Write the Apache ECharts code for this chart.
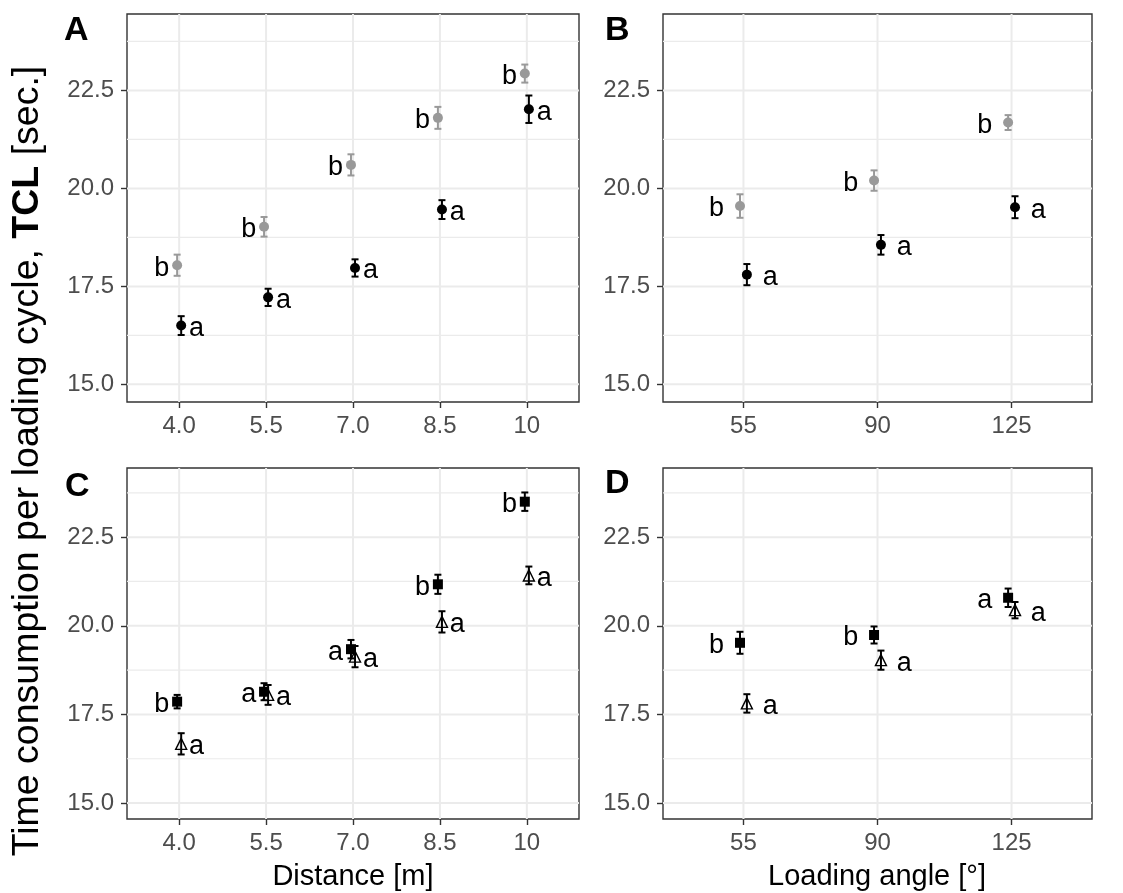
<!DOCTYPE html>
<html>
<head>
<meta charset="utf-8">
<script src="https://cdn.jsdelivr.net/npm/echarts@6/dist/echarts.min.js"></script>
<style>
html,body{margin:0;padding:0;background:#fff;}
#chart{width:1123px;height:893px;}
</style>
</head>
<body>
<div id="chart"></div>
<script>
// ---------- data ----------
const distCats = [4.0, 5.5, 7.0, 8.5, 10];
const distTickLabels = ['4.0', '5.5', '7.0', '8.5', '10'];
const angleCats = [55, 90, 125];
const angleTickLabels = ['55', '90', '125'];
const yTicks = [15, 17.5, 20, 22.5];
const yTickLabels = ['15.0', '17.5', '20.0', '22.5'];

// Panel A (distance; grey = b, black = a)
const A_grey_mean = [18.04, 19.02, 20.60, 21.80, 22.93];
const A_grey_err  = [0.27, 0.25, 0.27, 0.28, 0.23];
const A_grey_letter = ['b', 'b', 'b', 'b', 'b'];
const A_black_mean = [16.50, 17.22, 17.97, 19.46, 22.02];
const A_black_err  = [0.24, 0.22, 0.22, 0.24, 0.35];
const A_black_letter = ['a', 'a', 'a', 'a', 'a'];

// Panel B (loading angle)
const B_grey_mean = [19.55, 20.20, 21.68];
const B_grey_err  = [0.30, 0.26, 0.19];
const B_grey_letter = ['b', 'b', 'b'];
const B_black_mean = [17.80, 18.56, 19.52];
const B_black_err  = [0.27, 0.25, 0.28];
const B_black_letter = ['a', 'a', 'a'];

// Panel C (distance; squares / triangles)
const C_square_mean = [17.86, 18.14, 19.34, 21.17, 23.50];
const C_square_err  = [0.19, 0.24, 0.26, 0.27, 0.26];
const C_square_letter = ['b', 'a', 'a', 'b', 'b'];
const C_tri_mean = [16.67, 18.05, 19.13, 20.11, 21.42];
const C_tri_err  = [0.30, 0.28, 0.30, 0.30, 0.25];
const C_tri_letter = ['a', 'a', 'a', 'a', 'a'];

// Panel D (loading angle; squares / triangles)
const D_square_mean = [19.52, 19.74, 20.79];
const D_square_err  = [0.31, 0.24, 0.26];
const D_square_letter = ['b', 'b', 'a'];
const D_tri_mean = [17.81, 19.03, 20.44];
const D_tri_err  = [0.26, 0.27, 0.23];
const D_tri_letter = ['a', 'a', 'a'];

// ---------- styling ----------
const FONT = '"Liberation Sans", Arial, Helvetica, sans-serif';
const TICK_FS = 24;
const LAB_FS = 27;
const TITLE_FS = 29;
const YTITLE_FS = 37.5;
const GREY = '#999999';
const BLACK = '#000000';

const grids = [
  {left: 127, top: 14, width: 452, height: 388},
  {left: 663, top: 14, width: 429, height: 388},
  {left: 127, top: 468, width: 452, height: 351},
  {left: 663, top: 468, width: 429, height: 351}
];
const Y_MIN = 14.55, Y_MAX = 24.45;
const yMinor = yTicks.map(v => v + 1.25);

function xAxisFor(gi, cats, labels, min, max) {
  return {
    type: 'value', gridIndex: gi, min: min, max: max,
    axisLine: {show: false},
    splitLine: {show: false},
    axisTick: {show: true, customValues: cats, length: 6, lineStyle: {color: '#333', width: 1.4}},
    axisLabel: {show: true, customValues: cats, margin: 12, color: '#4d4d4d',
      fontSize: TICK_FS, fontFamily: FONT,
      formatter: v => { const i = cats.findIndex(c => Math.abs(c - v) < 1e-6); return i >= 0 ? labels[i] : ''; }}
  };
}
function yAxisFor(gi) {
  return {
    type: 'value', gridIndex: gi, min: Y_MIN, max: Y_MAX,
    axisLine: {show: false},
    splitLine: {show: false},
    axisTick: {show: true, customValues: yTicks, length: 6, lineStyle: {color: '#333', width: 1.4}},
    axisLabel: {show: true, customValues: yTicks, margin: 13, color: '#4d4d4d',
      fontSize: TICK_FS, fontFamily: FONT,
      formatter: v => { const i = yTicks.findIndex(c => Math.abs(c - v) < 1e-6); return i >= 0 ? yTickLabels[i] : ''; }}
  };
}

function gridLineSeries(gi, xTicks) {
  const data = [];
  yMinor.forEach(v => data.push([xTicks[0], v, 1]));
  yTicks.forEach(v => data.push([xTicks[0], v, 0]));
  xTicks.forEach(v => data.push([v, yTicks[0], 2]));
  return {
    type: 'custom', xAxisIndex: gi, yAxisIndex: gi, silent: true, z: 0,
    data: data,
    renderItem: function (params, api) {
      const cs = params.coordSys;
      const kind = api.value(2);
      const p = api.coord([api.value(0), api.value(1)]);
      if (kind === 2) {
        return {type: 'line', shape: {x1: p[0], y1: cs.y, x2: p[0], y2: cs.y + cs.height},
          style: {stroke: '#ebebeb', lineWidth: 2}};
      }
      if (p[1] < cs.y || p[1] > cs.y + cs.height) return null;
      return {type: 'line', shape: {x1: cs.x, y1: p[1], x2: cs.x + cs.width, y2: p[1]},
        style: {stroke: '#ebebeb', lineWidth: kind === 0 ? 2 : 1.2}};
    }
  };
}

function errSeries(gi, cats, dodge, mean, err, color) {
  return {
    type: 'custom', xAxisIndex: gi, yAxisIndex: gi, silent: true, z: 3,
    itemStyle: {color: color},
    data: cats.map((c, i) => [c + dodge, mean[i] - err[i], mean[i] + err[i]]),
    renderItem: function (params, api) {
      const x = api.value(0);
      const lo = api.coord([x, api.value(1)]);
      const hi = api.coord([x, api.value(2)]);
      const w = 3.5;
      const st = {stroke: color, lineWidth: 2};
      return {type: 'group', children: [
        {type: 'line', shape: {x1: lo[0], y1: lo[1], x2: hi[0], y2: hi[1]}, style: st},
        {type: 'line', shape: {x1: lo[0] - w, y1: lo[1], x2: lo[0] + w, y2: lo[1]}, style: st},
        {type: 'line', shape: {x1: hi[0] - w, y1: hi[1], x2: hi[0] + w, y2: hi[1]}, style: st}
      ]};
    }
  };
}

function pointSeries(gi, cats, dodge, mean, symbol, size, fill, stroke) {
  return {
    type: 'scatter', xAxisIndex: gi, yAxisIndex: gi, silent: true, z: 4,
    symbol: symbol, symbolSize: size,
    itemStyle: {color: fill, borderColor: stroke, borderWidth: stroke ? 1.4 : 0, opacity: 1},
    data: cats.map((c, i) => [c + dodge, mean[i]])
  };
}

function labelSeries(gi, cats, nudge, mean, letters) {
  return {
    type: 'custom', xAxisIndex: gi, yAxisIndex: gi, silent: true, z: 5,
    data: cats.map((c, i) => [c + nudge, mean[i]]),
    renderItem: function (params, api) {
      const p = api.coord([api.value(0), api.value(1)]);
      return {type: 'text', x: p[0], y: p[1] + 3, style: {
        text: letters[params.dataIndex], fill: '#000',
        font: LAB_FS + 'px ' + FONT,
        textAlign: 'center', textVerticalAlign: 'middle', align: 'center', verticalAlign: 'middle'}};
    }
  };
}

const dD = 0.035, dA = 0.9;     // dodge (x units)
const nD = 0.30, nA = 7.0;      // label nudge (x units)

const series = [
  gridLineSeries(0, distCats), gridLineSeries(1, angleCats),
  gridLineSeries(2, distCats), gridLineSeries(3, angleCats),
  // A
  errSeries(0, distCats, -dD, A_grey_mean, A_grey_err, GREY),
  errSeries(0, distCats, dD, A_black_mean, A_black_err, BLACK),
  pointSeries(0, distCats, -dD, A_grey_mean, 'circle', 10, GREY, null),
  pointSeries(0, distCats, dD, A_black_mean, 'circle', 10, BLACK, null),
  labelSeries(0, distCats, -nD, A_grey_mean, A_grey_letter),
  labelSeries(0, distCats, nD, A_black_mean, A_black_letter),
  // B
  errSeries(1, angleCats, -dA, B_grey_mean, B_grey_err, GREY),
  errSeries(1, angleCats, dA, B_black_mean, B_black_err, BLACK),
  pointSeries(1, angleCats, -dA, B_grey_mean, 'circle', 10, GREY, null),
  pointSeries(1, angleCats, dA, B_black_mean, 'circle', 10, BLACK, null),
  labelSeries(1, angleCats, -nA, B_grey_mean, B_grey_letter),
  labelSeries(1, angleCats, nA, B_black_mean, B_black_letter),
  // C
  errSeries(2, distCats, -dD, C_square_mean, C_square_err, BLACK),
  errSeries(2, distCats, dD, C_tri_mean, C_tri_err, BLACK),
  pointSeries(2, distCats, -dD, C_square_mean, 'rect', 10, BLACK, null),
  pointSeries(2, distCats, dD, C_tri_mean, 'triangle', 11, 'rgba(0,0,0,0)', BLACK),
  labelSeries(2, distCats, -nD, C_square_mean, C_square_letter),
  labelSeries(2, distCats, nD, C_tri_mean, C_tri_letter),
  // D
  errSeries(3, angleCats, -dA, D_square_mean, D_square_err, BLACK),
  errSeries(3, angleCats, dA, D_tri_mean, D_tri_err, BLACK),
  pointSeries(3, angleCats, -dA, D_square_mean, 'rect', 10, BLACK, null),
  pointSeries(3, angleCats, dA, D_tri_mean, 'triangle', 11, 'rgba(0,0,0,0)', BLACK),
  labelSeries(3, angleCats, -nA, D_square_mean, D_square_letter),
  labelSeries(3, angleCats, nA, D_tri_mean, D_tri_letter)
];

const tagStyle = t => ({text: t, font: 'bold 34px ' + FONT, fill: '#000', textAlign: 'left', textVerticalAlign: 'middle'});

const option = {
  animation: false,
  backgroundColor: '#ffffff',
  grid: grids.map(g => Object.assign({show: true, borderColor: '#333333', borderWidth: 1.4,
    backgroundColor: 'transparent', containLabel: false}, g)),
  xAxis: [
    xAxisFor(0, distCats, distTickLabels, 3.1, 10.9),
    xAxisFor(1, angleCats, angleTickLabels, 34, 146),
    xAxisFor(2, distCats, distTickLabels, 3.1, 10.9),
    xAxisFor(3, angleCats, angleTickLabels, 34, 146)
  ],
  yAxis: [yAxisFor(0), yAxisFor(1), yAxisFor(2), yAxisFor(3)],
  graphic: [
    {type: 'text', x: 64, y: 31, style: tagStyle('A')},
    {type: 'text', x: 605, y: 31, style: tagStyle('B')},
    {type: 'text', x: 65, y: 487, style: tagStyle('C')},
    {type: 'text', x: 605, y: 484, style: tagStyle('D')},
    {type: 'text', x: 353, y: 877, style: {text: 'Distance [m]', font: TITLE_FS + 'px ' + FONT, fill: '#000',
      textAlign: 'center', textVerticalAlign: 'middle'}},
    {type: 'text', x: 877, y: 877, style: {text: 'Loading angle [°]', font: TITLE_FS + 'px ' + FONT, fill: '#000',
      textAlign: 'center', textVerticalAlign: 'middle'}},
    {type: 'text', x: 28, y: 461, rotation: Math.PI / 2, style: {
      text: '{n|Time consumption per loading cycle, }{b|TCL}{n| [sec.]}',
      textAlign: 'center', textVerticalAlign: 'middle',
      rich: {
        n: {fontSize: YTITLE_FS, fontFamily: FONT, color: '#000'},
        b: {fontSize: YTITLE_FS, fontFamily: FONT, fontWeight: 'bold', color: '#000'}
      }}}
  ],
  series: series
};

const chart = echarts.init(document.getElementById('chart'), null, {renderer: 'canvas'});
chart.setOption(option);
</script>
</body>
</html>
